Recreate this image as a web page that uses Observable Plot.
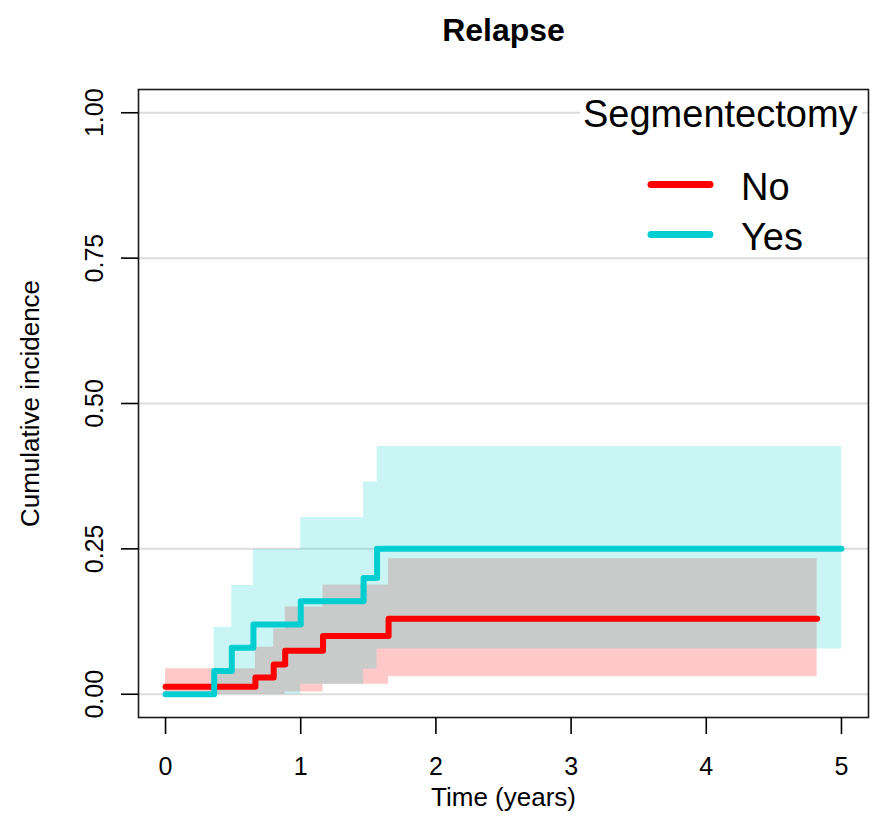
<!DOCTYPE html>
<html>
<head>
<meta charset="utf-8">
<script src="https://cdn.jsdelivr.net/npm/d3@7"></script>
<script src="https://cdn.jsdelivr.net/npm/@observablehq/plot@0.6"></script>
<style>
  html, body { margin: 0; padding: 0; background: #fff; }
  #wrap { position: relative; width: 872px; height: 816px; font-family: "Liberation Sans", Arial, sans-serif; }
  #legend { position: absolute; left: 0; top: 0; pointer-events: none; }
</style>
</head>
<body>
<div id="wrap"></div>
<script>
// ---- data ----
const chartTitle = "Relapse";
const xLabel = "Time (years)";
const yLabel = "Cumulative incidence";
const legendTitle = "Segmentectomy";
const groups = ["No", "Yes"];
const colors = ["#FF0000", "#00CED1"];
const xTicks = [0, 1, 2, 3, 4, 5];
const yTicks = [0, 0.25, 0.5, 0.75, 1];

// Segmentectomy = No
const noTime  = [0, 0.665, 0.80, 0.885, 1.165, 1.65, 4.82];
const noEst   = [0.013, 0.029, 0.051, 0.075, 0.100, 0.130, 0.130];
const noLower = [0, 0, 0, 0.004, 0.017, 0.030, 0.030];
const noUpper = [0.044, 0.081, 0.112, 0.150, 0.188, 0.233, 0.233];

// Segmentectomy = Yes
const yesTime  = [0, 0.36, 0.49, 0.65, 1.0, 1.465, 1.565, 5.0];
const yesEst   = [0, 0.04, 0.08, 0.12, 0.16, 0.20, 0.25, 0.25];
const yesLower = [0, 0, 0, 0, 0.017, 0.043, 0.078, 0.078];
const yesUpper = [0, 0.115, 0.187, 0.249, 0.304, 0.365, 0.426, 0.426];

// ---- build tables ----
const rows = (time, est, lo, up, g) => time.map((t, i) => ({t, est: est[i], lower: lo[i], upper: up[i], group: g}));
const noRows = rows(noTime, noEst, noLower, noUpper, groups[0]);
const yesRows = rows(yesTime, yesEst, yesLower, yesUpper, groups[1]);
const series = [noRows, yesRows];

const W = 872, H = 816;
const fontFamily = '"Liberation Sans", Arial, sans-serif';

const bandMarks = series.map((d, i) => Plot.areaY(d, {
  x: "t", y1: "lower", y2: "upper", curve: "step-after",
  fill: colors[i], fillOpacity: 0.21
}));
const lineMarks = series.map((d, i) => Plot.lineY(d, {
  x: "t", y: "est", curve: "step-after",
  stroke: colors[i], strokeWidth: 6, strokeLinecap: "round", strokeLinejoin: "round"
}));

const chart = Plot.plot({
  width: W, height: H,
  marginTop: 89, marginBottom: 99, marginLeft: 138, marginRight: 4,
  style: {fontFamily, fontSize: "25px", color: "#000", background: "#fff", overflow: "visible"},
  x: {domain: [-0.2, 5.2], label: null},
  y: {domain: [-0.04, 1.04], label: null},
  marks: [
    Plot.gridY(yTicks, {stroke: "#dcdcdc", strokeOpacity: 1, strokeWidth: 2}),
    ...bandMarks,
    ...lineMarks,
    Plot.frame({stroke: "#1a1a1a", strokeWidth: 1.6}),
    Plot.axisX(xTicks, {tickSize: 17, tickPadding: 23, tickFormat: d => String(d), fontSize: 25, strokeWidth: 1.6}),
    Plot.axisY(yTicks, {tickSize: 17, tickPadding: 19, tickRotate: -90, textAnchor: "middle", lineAnchor: "bottom",
      tickFormat: d3.format(".2f"), fontSize: 25, strokeWidth: 1.6}),
    Plot.text([xLabel], {frameAnchor: "bottom", dy: 80, fontSize: 26, textAnchor: "middle", lineAnchor: "middle"}),
    Plot.text([yLabel], {frameAnchor: "left", dx: -108, rotate: -90, fontSize: 26, textAnchor: "middle", lineAnchor: "middle"}),
    Plot.text([chartTitle], {frameAnchor: "top", dy: -49, fontSize: 32, fontWeight: "bold", textAnchor: "middle", lineAnchor: "bottom"})
  ]
});
document.getElementById("wrap").appendChild(chart);

// ---- legend overlay (inside the plot area, top-right) ----
const leg = d3.select("#wrap").append("svg")
  .attr("id", "legend").attr("width", W).attr("height", H)
  .style("font-family", fontFamily);
leg.append("rect").attr("x", 580).attr("y", 93).attr("width", 282).attr("height", 158).attr("fill", "#fff");
leg.append("text").attr("x", 583).attr("y", 127).attr("font-size", 38).attr("fill", "#000").text(legendTitle);
const rowY = [184.5, 234.5];
groups.forEach((g, i) => {
  leg.append("line").attr("x1", 651).attr("x2", 710).attr("y1", rowY[i]).attr("y2", rowY[i])
    .attr("stroke", colors[i]).attr("stroke-width", 7).attr("stroke-linecap", "round");
  leg.append("text").attr("x", 741).attr("y", rowY[i] + 15.5).attr("font-size", 38).attr("fill", "#000").text(g);
});
</script>
</body>
</html>
